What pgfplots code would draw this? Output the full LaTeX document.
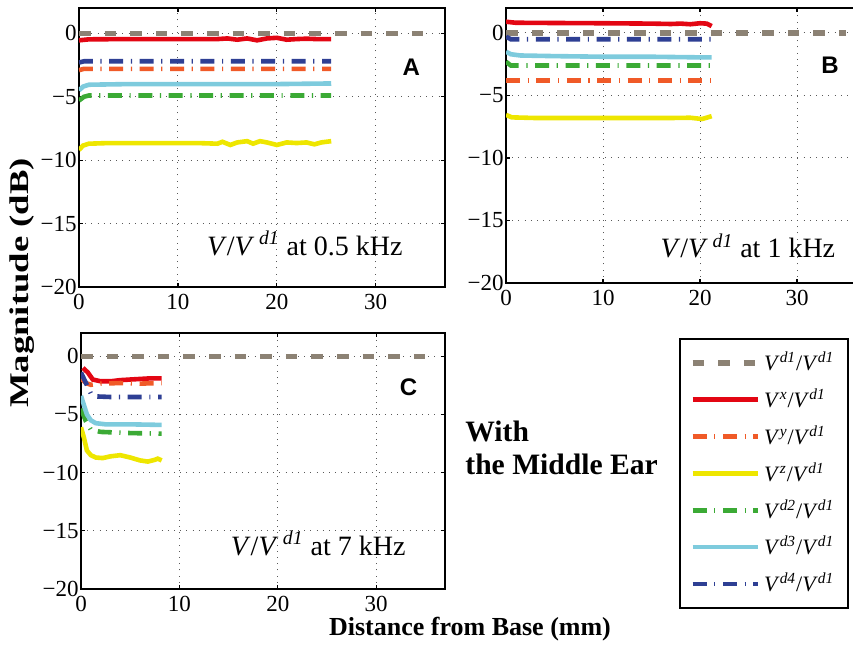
\documentclass[border=0pt]{standalone}
\usepackage{fontspec}
\setmainfont{Liberation Serif}
\setsansfont{Liberation Sans}
\newfontfamily\tickfont{Liberation Serif}
\usepackage{graphicx}
\usepackage{pgfplots}
\pgfplotsset{compat=1.18}
\definecolor{cgray}{RGB}{140,130,116}
\definecolor{cred}{RGB}{227,6,19}
\definecolor{corange}{RGB}{240,90,40}
\definecolor{cyellow}{RGB}{238,230,0}
\definecolor{cgreen}{RGB}{59,170,53}
\definecolor{ccyan}{RGB}{126,203,221}
\definecolor{cblue}{RGB}{46,63,148}
\pgfplotsset{
  panel/.style={
    scale only axis, anchor=south west,
    xmin=0, xmax=37, ymin=-20, ymax=2,
    /pgf/number format/assume math mode=true,
    xtick={0,10,20,30}, xticklabels={{\tickfont 0},{\tickfont 10},{\tickfont 20},{\tickfont 30}},
    ytick={-20,-15,-10,-5,0}, yticklabels={{\tickfont −20},{\tickfont −15},{\tickfont −10},{\tickfont −5},{\tickfont 0}},
    grid=major, grid style={black!65, line width=0.5pt, dash pattern=on 0.5pt off 2.6pt},
    tick align=inside, major tick length=2pt,
    axis line style={line width=0.9pt},
    every tick/.style={black, line width=0.6pt},
    ticklabel style={font=\tickfont\fontsize{11.5}{12}\selectfont},
    yticklabel style={inner xsep=1pt},
    legend image code/.code={\draw[##1] (0pt,0pt) -- (32.5pt,0pt);},
  },
  sgray/.style={cgray, line width=2.6pt, dash pattern=on 5.8pt off 7pt},
  sred/.style={cred, line width=2.3pt},
  sorange/.style={corange, line width=2.3pt, dash pattern=on 7pt off 3.8pt on 0.6pt off 3.8pt},
  syellow/.style={cyellow, line width=2.3pt},
  sgreen/.style={cgreen, line width=2.3pt, dash pattern=on 7pt off 3.8pt on 0.6pt off 3.8pt},
  scyan/.style={ccyan, line width=2.3pt},
  sblue/.style={cblue, line width=2.3pt, dash pattern=on 7pt off 3.8pt on 0.6pt off 3.8pt},
}
\newcommand{\VV}[1]{\textit{V}\textsuperscript{\textit{#1}}/\textit{V}\textsuperscript{\textit{d1}}}
\newcommand{\ptxt}[1]{\textit{V}/\textit{V}\,\textsuperscript{\textit{d1}} at #1 kHz}
\begin{document}
\begin{tikzpicture}
% ---------------- A: 0.5 kHz
\begin{axis}[panel, at={(39.5pt,181pt)}, width=183pt, height=139.5pt]
\addplot[sgray] coordinates {(0,0) (35,0)};
\addplot[sblue] coordinates {(0,-2.3) (0.5,-2.2) (5,-2.2) (10,-2.2) (15,-2.2) (20,-2.2) (25.5,-2.2)};
\addplot[sorange] coordinates {(0,-2.9) (0.5,-2.8) (5,-2.8) (10,-2.8) (15,-2.8) (20,-2.8) (25.5,-2.8)};
\addplot[sgreen] coordinates {(0,-5.3) (0.5,-5.0) (1,-4.9) (5,-4.9) (10,-4.9) (15,-4.9) (20,-4.9) (25.5,-4.9)};
\addplot[scyan] coordinates {(0,-4.5) (0.4,-4.2) (1,-4.05) (5,-4.0) (10,-4.0) (15,-4.0) (20,-4.0) (25.5,-3.95)};
\addplot[sred] coordinates {(0,-0.55) (1,-0.47) (5,-0.45) (10,-0.45) (14,-0.45) (15,-0.4) (16,-0.5) (17,-0.4) (18,-0.55) (19,-0.4) (20,-0.35) (21,-0.5) (22,-0.45) (23,-0.42) (24,-0.45) (25.5,-0.45)};
\addplot[syellow] coordinates {(0,-9.2) (0.4,-8.85) (1,-8.7) (3,-8.65) (6,-8.65) (9,-8.65) (12,-8.65) (14,-8.7) (14.5,-8.55) (15.3,-8.8) (16,-8.6) (17,-8.5) (17.6,-8.7) (18.3,-8.5) (19,-8.6) (20,-8.8) (21,-8.6) (22,-8.65) (23,-8.6) (23.8,-8.75) (24.5,-8.6) (25.5,-8.5)};
\node[font=\sffamily\bfseries\fontsize{12}{12}\selectfont] at (axis cs:33.6,-2.7) {A};
\node[anchor=base west, font=\fontsize{14}{14}\selectfont, inner sep=0pt] at (axis cs:12.9,-17.5) {\ptxt{0.5}};
\end{axis}
% ---------------- B: 1 kHz
\begin{axis}[panel, at={(253pt,183pt)}, width=179.5pt, height=137.5pt]
\addplot[sgray] coordinates {(0,0) (35,0)};
\addplot[sblue] coordinates {(0,-0.3) (0.5,-0.5) (5,-0.5) (10,-0.5) (15,-0.5) (21.2,-0.5)};
\addplot[sgreen] coordinates {(0,-2.3) (0.5,-2.6) (5,-2.6) (10,-2.6) (15,-2.6) (21.2,-2.6)};
\addplot[sorange] coordinates {(0,-3.8) (5,-3.8) (10,-3.8) (15,-3.8) (21.2,-3.8)};
\addplot[scyan] coordinates {(0,-1.5) (0.5,-1.7) (1.5,-1.8) (5,-1.85) (10,-1.9) (15,-1.9) (20,-1.95) (21.2,-1.95)};
\addplot[sred] coordinates {(0,0.9) (1,0.82) (5,0.8) (10,0.78) (15,0.75) (17,0.72) (18,0.75) (19,0.7) (20,0.78) (20.7,0.75) (21.2,0.55)};
\addplot[syellow] coordinates {(0,-6.55) (0.6,-6.75) (3,-6.8) (8,-6.8) (13,-6.8) (17,-6.8) (19,-6.78) (20.2,-6.88) (20.8,-6.75) (21.2,-6.65)};
\node[font=\sffamily\bfseries\fontsize{12}{12}\selectfont] at (axis cs:33.4,-2.56) {B};
\node[anchor=base west, font=\fontsize{14}{14}\selectfont, inner sep=0pt] at (axis cs:15.9,-18.0) {\ptxt{1}};
\end{axis}
% ---------------- C: 7 kHz
\begin{axis}[panel, at={(40.5pt,30pt)}, width=182pt, height=128pt,
  legend style={at={(1.643,0.98)}, anchor=north west, draw=black, line width=1pt,
    inner xsep=5pt, inner ysep=4.5pt, row sep=3.6pt,
    font=\fontsize{11}{13}\selectfont},
  legend cell align=left]
\addplot[sgray] coordinates {(0,0) (35,0)};
\addlegendentry{\VV{d1}}
\addplot[sred] coordinates {(0.2,-1.0) (0.7,-1.4) (1.2,-2.0) (2,-2.15) (3,-2.15) (4,-2.05) (5,-2.0) (6,-1.95) (7,-1.9) (8.2,-1.9)};
\addlegendentry{\VV{x}}
\addplot[sorange] coordinates {(0,-1.9) (0.5,-2.3) (1,-2.45) (2,-2.35) (4,-2.3) (6,-2.35) (8.2,-2.3)};
\addlegendentry{\VV{y}}
\addplot[syellow] coordinates {(0,-6.1) (0.3,-7.0) (0.6,-8.1) (1,-8.5) (1.5,-8.7) (2.2,-8.75) (3,-8.6) (4,-8.5) (5,-8.7) (6,-8.95) (6.8,-9.05) (7.5,-8.9) (7.8,-8.8) (8.2,-8.95)};
\addlegendentry{\VV{z}}
\addplot[sgreen] coordinates {(0,-4.5) (0.5,-5.6) (1,-6.3) (2,-6.5) (5,-6.6) (8.2,-6.65)};
\addlegendentry{\VV{d2}}
\addplot[scyan] coordinates {(0,-3.4) (0.3,-4.2) (0.6,-5.0) (1,-5.5) (1.5,-5.75) (2.5,-5.85) (5,-5.85) (8.2,-5.9)};
\addlegendentry{\VV{d3}}
\addplot[sblue] coordinates {(0,-1.4) (0.5,-2.3) (1,-3.2) (1.5,-3.45) (3,-3.5) (8.2,-3.5)};
\addlegendentry{\VV{d4}}
\node[font=\sffamily\bfseries\fontsize{12}{12}\selectfont] at (axis cs:33.3,-2.65) {C};
\node[anchor=base west, font=\fontsize{14}{14}\selectfont, inner sep=0pt] at (axis cs:15.2,-17.1) {\ptxt{7}};
\end{axis}
% ---------------- labels
\node[anchor=base, font=\bfseries\fontsize{13}{13}\selectfont, inner sep=0pt] at (235pt,6.5pt) {Distance from Base (mm)};
\node[rotate=90, anchor=center, font=\bfseries\fontsize{13.5}{13.5}\selectfont, inner sep=0pt] at (11pt,183pt) {\scalebox{1.36}[1]{Magnitude (dB)}};
\node[anchor=base west, font=\bfseries\fontsize{14.8}{16}\selectfont, inner sep=0pt] at (232.5pt,103.5pt) {With};
\node[anchor=base west, font=\bfseries\fontsize{14.8}{16}\selectfont, inner sep=0pt] at (232.5pt,87pt) {the Middle Ear};
\pgfresetboundingbox
\useasboundingbox (0,0) rectangle (426.5pt,324.5pt);
\end{tikzpicture}
\end{document}
